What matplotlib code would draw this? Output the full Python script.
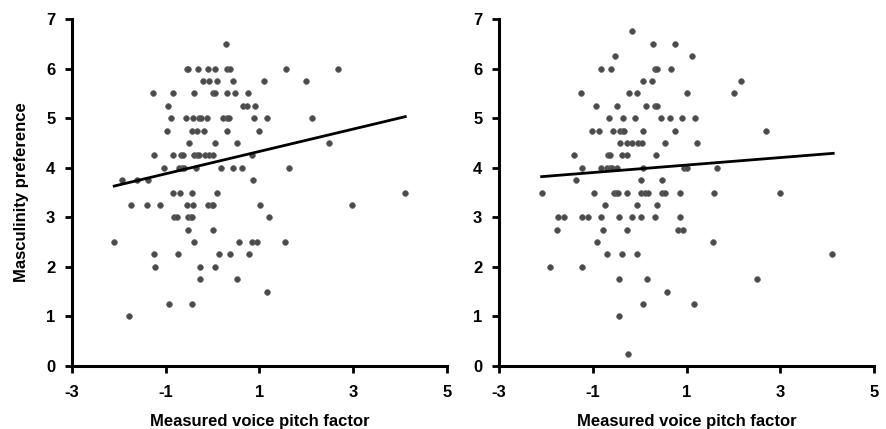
import matplotlib
matplotlib.use("Agg")
import matplotlib.pyplot as plt

plt.rcParams['font.family'] = ['Liberation Sans', 'DejaVu Sans']
plt.rcParams['font.weight'] = 'bold'

# ---- data ----
x_ticks = [-3, -1, 1, 3, 5]
y_ticks = [0, 1, 2, 3, 4, 5, 6, 7]
x_label = "Measured voice pitch factor"
y_label = "Masculinity preference"

left_levels = [6.5, 6, 5.75, 5.5, 5.25, 5, 4.75, 4.5, 4.25, 4, 3.75, 3.5,
               3.25, 3, 2.75, 2.5, 2.25, 2, 1.75, 1.5, 1.25, 1]
left_xs = [
    [0.28],
    [-0.55, -0.52, -0.31, -0.09, 0.06, 0.31, 0.38, 1.56, 2.68],
    [-0.20, -0.07, 0.10, 0.44, 1.09, 2.00],
    [-1.27, -0.85, -0.40, 0.01, 0.06, 0.31, 0.48, 0.75],
    [-0.96, 0.64, 0.74, 0.90],
    [-0.89, -0.57, -0.41, -0.29, -0.25, -0.13, 0.23, 0.30, 0.35, 0.88, 1.17, 2.13],
    [-0.98, -0.43, -0.34, -0.19, 0.30, 0.99],
    [-0.50, 0.06, 0.51, 2.48],
    [-1.25, -0.84, -0.68, -0.63, -0.39, -0.34, -0.29, -0.16, -0.07, 0.00, 0.84],
    [-1.04, -0.72, -0.65, -0.61, -0.36, 0.17, 0.44, 0.63, 1.63],
    [-1.94, -1.61, -1.37, 0.87],
    [-0.85, -0.70, -0.45, 0.09, 4.10],
    [-1.75, -1.41, -1.12, -0.55, -0.41, -0.09, -0.02, 0.01, 1.01, 2.98],
    [-0.82, -0.77, -0.52, -0.47, -0.43, 1.20],
    [-0.52, 0.01],
    [-2.10, -0.40, 0.57, 0.84, 0.94, 1.54],
    [-1.25, -0.73, 0.13, 0.37, 0.78],
    [-1.23, -0.26, 0.05],
    [-0.26, 0.53],
    [1.15],
    [-0.93, -0.45],
    [-1.78],
]
left_line_x = [-2.10, 4.11]
left_line_y = [3.63, 5.03]

right_levels = [6.75, 6.5, 6.25, 6, 5.75, 5.5, 5.25, 5, 4.75, 4.5, 4.25, 4,
                3.75, 3.5, 3.25, 3, 2.75, 2.5, 2.25, 2, 1.75, 1.5, 1.25, 1, 0.25]
right_xs = [
    [-0.17],
    [0.29, 0.76],
    [-0.53, 1.11],
    [-0.83, -0.62, 0.33, 0.38, 0.67],
    [0.08, 0.26, 2.16],
    [-1.25, -0.23, -0.06, 1.00, 2.01],
    [-0.94, -0.49, 0.13, 0.33, 0.38],
    [-0.65, -0.35, -0.10, 0.45, 0.65, 0.91, 1.19],
    [-1.02, -0.87, -0.56, -0.41, -0.36, -0.33, 0.08, 0.76, 2.69],
    [-0.41, -0.28, -0.16, -0.04, 0.06, 0.54, 1.22],
    [-1.39, -0.67, -0.63, -0.37, -0.28, 0.34],
    [-1.24, -0.83, -0.69, -0.63, -0.58, -0.48, 0.08, 0.94, 1.02, 1.65],
    [-1.36, 0.02, 0.47],
    [-2.08, -0.97, -0.54, -0.51, -0.47, -0.28, 0.03, 0.11, 0.18, 0.48, 0.55, 0.86, 1.58, 2.99],
    [-0.74, -0.06, 0.36],
    [-1.74, -1.61, -1.24, -1.10, -0.83, -0.43, -0.16, 0.03, 0.33, 0.86],
    [-1.76, -0.79, -0.26, 0.81, 0.92],
    [-0.90, 1.56],
    [-0.70, -0.37, -0.05, 4.11],
    [-1.92, -1.22],
    [-0.43, 0.15, 2.50],
    [0.59],
    [0.08, 1.16],
    [-0.43],
    [-0.24],
]
right_line_x = [-2.09, 4.13]
right_line_y = [3.82, 4.29]


def flatten(levels, xs):
    px, py = [], []
    for lv, row in zip(levels, xs):
        for v in row:
            px.append(v)
            py.append(lv)
    return px, py


W, H = 886, 429
fig = plt.figure(figsize=(W / 100, H / 100), dpi=100)

panels = [
    (72, left_levels, left_xs, left_line_x, left_line_y, True),
    (499, right_levels, right_xs, right_line_x, right_line_y, False),
]
for left_px, levels, xs, lx, ly, show_ylabel in panels:
    ax = fig.add_axes([left_px / W, (H - 366) / H, 375 / W, (366 - 19) / H])
    px, py = flatten(levels, xs)
    ax.scatter(px, py, s=17, color='#4a4a4a', edgecolors='#666666',
               linewidths=0.5, zorder=3, clip_on=False)
    ax.plot(lx, ly, color='black', lw=2.0, zorder=4)
    ax.set_xlim(-3, 5)
    ax.set_ylim(0, 7)
    ax.set_xticks(x_ticks)
    ax.set_yticks(y_ticks)
    ax.set_xticklabels([str(t) for t in x_ticks])
    ax.set_yticklabels([str(t) for t in y_ticks])
    for s in ['top', 'right']:
        ax.spines[s].set_visible(False)
    for s in ['left', 'bottom']:
        ax.spines[s].set_linewidth(2.2)
    ax.tick_params(axis='both', direction='out', length=5, width=2.0,
                   labelsize=12, pad=7)
    ax.tick_params(axis='x', pad=9)
    for lab in ax.get_xticklabels() + ax.get_yticklabels():
        lab.set_fontweight('bold')
    ax.set_xlabel(x_label, fontsize=12, fontweight='bold', labelpad=10)
    if show_ylabel:
        ax.set_ylabel(y_label, fontsize=12, fontweight='bold', labelpad=12)

fig.savefig('out.png', dpi=100)
